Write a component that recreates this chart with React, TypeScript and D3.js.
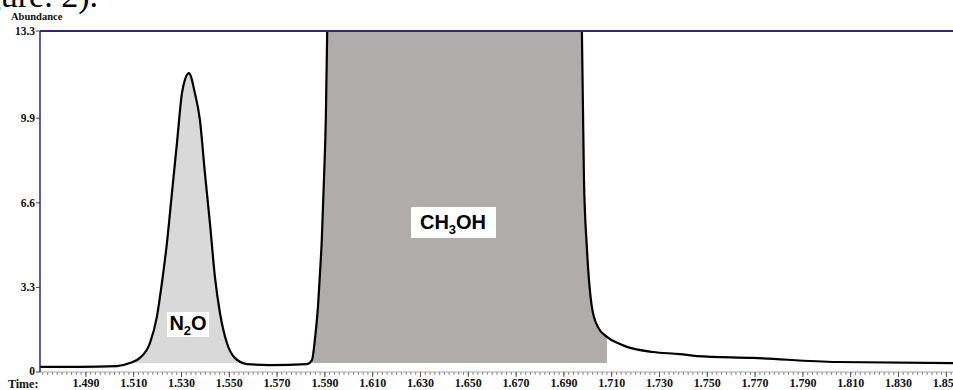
import React from "react";
import * as d3 from "d3";

// Chromatogram data (time in min, abundance)
const timeValues = [
  1.4708, 1.4875, 1.503, 1.5084, 1.5126, 1.5168, 1.5197, 1.5218, 1.5239, 1.526,
  1.5281, 1.5302, 1.5314, 1.5331, 1.5356, 1.5377, 1.5398, 1.5419, 1.544, 1.5461,
  1.549, 1.5523, 1.5574, 1.567, 1.5825, 1.5846, 1.5858, 1.5871, 1.5879, 1.5887,
  1.5896, 1.5904, 1.591, 1.592, 1.65, 1.6965, 1.6975, 1.6984, 1.6996, 1.7017,
  1.7042, 1.708, 1.7134, 1.7164, 1.7272, 1.7385, 1.7456, 1.7691, 1.8042, 1.8528,
];
const abundanceValues = [
  0.2, 0.2, 0.23, 0.35, 0.55, 1.13, 2.15, 3.47, 5.03, 6.98,
  8.93, 10.88, 11.39, 11.66, 10.88, 9.83, 7.76, 5.81, 3.7, 2.3,
  1.13, 0.55, 0.31, 0.27, 0.31, 0.47, 1.25, 2.54, 3.78, 5.15,
  7.49, 9.95, 13.5, 16, 16, 16, 13.5, 7.49, 4.88, 2.54,
  1.76, 1.37, 1.09, 0.98, 0.78, 0.7, 0.62, 0.55, 0.39, 0.35,
];

const yTickValues = [0, 3.3, 6.6, 9.9, 13.3];
const yTickLabels = ["0", "3.3", "6.6", "9.9", "13.3"];
const xTickLabels = [
  "1.490", "1.510", "1.530", "1.550", "1.570", "1.590", "1.610", "1.630", "1.650",
  "1.670", "1.690", "1.710", "1.730", "1.750", "1.770", "1.790", "1.810", "1.830", "1.850",
];

const peakNames = ["N2O", "CH3OH"];
const peakRanges: [number, number][] = [
  [1.5084, 1.5574],
  [1.5846, 1.708],
];
const fillBase = 0.35;

const W = 953;
const H = 390;
const left = 40;
const top = 31;
const bottom = 372;

export default function App() {
  const x = d3.scaleLinear().domain([1.4708, 1.8528]).range([left, W]);
  const y = d3.scaleLinear().domain([0, 13.3]).range([bottom, top]);

  const data = timeValues.map((t, i) => ({ t, v: abundanceValues[i] }));

  const line = d3
    .line<{ t: number; v: number }>()
    .x((d) => x(d.t))
    .y((d) => y(d.v))
    .curve(d3.curveMonotoneX);

  const areaFor = (r: [number, number]) =>
    d3
      .area<{ t: number; v: number }>()
      .x((d) => x(d.t))
      .y0(y(fillBase))
      .y1((d) => y(Math.max(d.v, fillBase)))
      .curve(d3.curveMonotoneX)(data.filter((d) => d.t >= r[0] - 1e-9 && d.t <= r[1] + 1e-9)) || "";

  const fillColors = ["#d9d9d9", "#b1acac"];

  const minorTicks = d3.range(1.472, 1.8529, 0.002);
  const majorTicks = xTickLabels.map((l) => +l);

  const serif = "'Liberation Serif', 'Times New Roman', serif";
  const sans = "'Liberation Sans', Arial, sans-serif";

  return (
    <svg
      width={W}
      height={H}
      style={{ position: "absolute", left: 0, top: 0, background: "#fff" }}
    >
      <defs>
        <clipPath id="plotClip">
          <rect x={left} y={top} width={W - left} height={bottom - top} />
        </clipPath>
      </defs>

      {/* caption fragment */}
      <text x={98} y={7} textAnchor="end" fontFamily={serif} fontSize={34} fill="#000">
        Figure. 2).
      </text>

      <text x={11} y={20} fontFamily={serif} fontWeight="bold" fontSize={10.5} fill="#111">
        Abundance
      </text>

      <g clipPath="url(#plotClip)">
        {peakRanges.map((r, i) => (
          <path key={peakNames[i]} d={areaFor(r)} fill={fillColors[i]} stroke="none" />
        ))}
        <path d={line(data) || ""} fill="none" stroke="#000" strokeWidth={2.2} strokeLinejoin="round" />
      </g>

      {/* x axis */}
      <line x1={left} x2={W} y1={bottom} y2={bottom} stroke="#aaa" strokeWidth={1} />
      {minorTicks.map((t, i) => (
        <line key={"m" + i} x1={x(t)} x2={x(t)} y1={bottom} y2={bottom + 3} stroke="#888" strokeWidth={1} />
      ))}
      {majorTicks.map((t, i) => (
        <line key={"M" + i} x1={x(t)} x2={x(t)} y1={bottom} y2={bottom + 5} stroke="#555" strokeWidth={1} />
      ))}
      {majorTicks.map((t, i) => (
        <text
          key={"xl" + i}
          x={x(t)}
          y={387}
          textAnchor="middle"
          fontFamily={serif}
          fontWeight="bold"
          fontSize={12}
          fill="#111"
        >
          {xTickLabels[i]}
        </text>
      ))}
      <text x={8} y={388} fontFamily={serif} fontWeight="bold" fontSize={12} fill="#111">
        Time:
      </text>

      {/* y axis */}
      {yTickValues.map((v, i) => (
        <g key={"y" + i}>
          <line x1={left - 4} x2={left} y1={y(v)} y2={y(v)} stroke="#444" strokeWidth={1} />
          <text
            x={left - 5}
            y={y(v) + (i === 0 ? 3 : 4)}
            textAnchor="end"
            fontFamily={serif}
            fontWeight="bold"
            fontSize={11.5}
            fill="#111"
          >
            {yTickLabels[i]}
          </text>
        </g>
      ))}
      <line x1={left} x2={left} y1={top} y2={bottom} stroke="#2d2a6a" strokeWidth={1.5} />
      <line x1={left} x2={W} y1={top} y2={top} stroke="#2d2a6a" strokeWidth={2} />

      {/* peak labels */}
      <rect x={167} y={312} width={42} height={25} fill="#fff" />
      <text x={188} y={330} textAnchor="middle" fontFamily={sans} fontWeight="bold" fontSize={20} fill="#000">
        N<tspan fontSize={13} dy={5}>2</tspan>
        <tspan dy={-5}>O</tspan>
      </text>
      <rect x={411} y={207} width={85} height={31} fill="#fff" />
      <text x={453} y={229} textAnchor="middle" fontFamily={sans} fontWeight="bold" fontSize={20} fill="#000">
        CH<tspan fontSize={13} dy={5}>3</tspan>
        <tspan dy={-5}>OH</tspan>
      </text>
    </svg>
  );
}
